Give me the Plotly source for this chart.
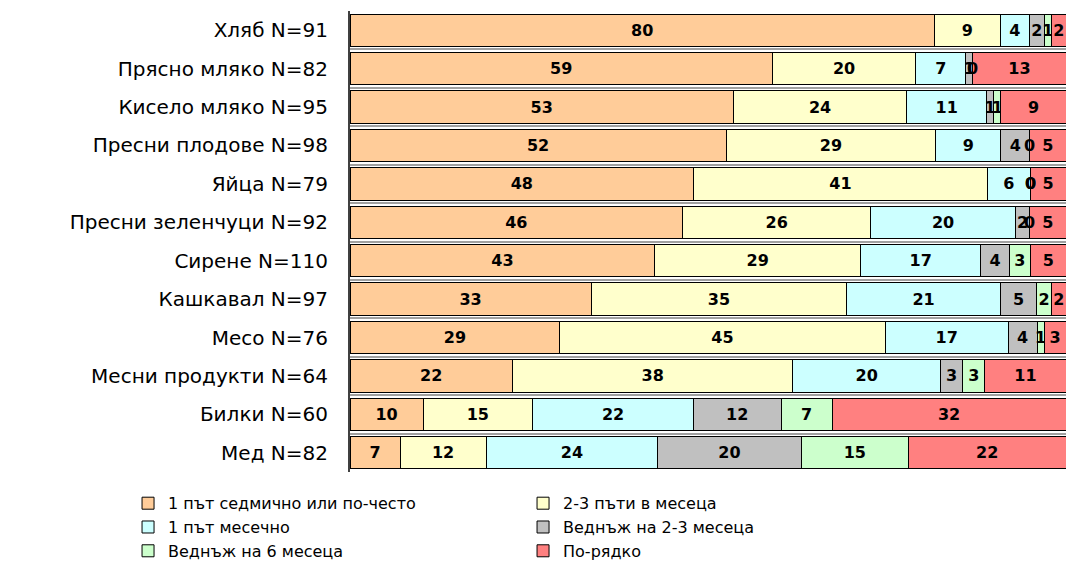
import plotly.graph_objects as go

# Food items (top to bottom) with sample size
categories = [
    "Хляб N=91",
    "Прясно мляко N=82",
    "Кисело мляко N=95",
    "Пресни плодове N=98",
    "Яйца N=79",
    "Пресни зеленчуци N=92",
    "Сирене N=110",
    "Кашкавал N=97",
    "Месо N=76",
    "Месни продукти N=64",
    "Билки N=60",
    "Мед N=82",
]

# Consumption frequency, % of respondents
weekly_or_more = [80, 59, 53, 52, 48, 46, 43, 33, 29, 22, 10, 7]
two_three_month = [9, 20, 24, 29, 41, 26, 29, 35, 45, 38, 15, 12]
once_month = [4, 7, 11, 9, 6, 20, 17, 21, 17, 20, 22, 24]
once_2_3_months = [2, 1, 1, 4, 0, 2, 4, 5, 4, 3, 12, 20]
once_6_months = [1, 0, 1, 0, 0, 0, 3, 2, 1, 3, 7, 15]
more_rarely = [2, 13, 9, 5, 5, 5, 5, 2, 3, 11, 32, 22]

series = [
    ("1 път седмично или по-често", weekly_or_more, "#FFCC99"),
    ("2-3 пъти в месеца", two_three_month, "#FFFFCC"),
    ("1 път месечно", once_month, "#CCFFFF"),
    ("Веднъж на 2-3 месеца", once_2_3_months, "#C0C0C0"),
    ("Веднъж на 6 месеца", once_6_months, "#CCFFCC"),
    ("По-рядко", more_rarely, "#FF8080"),
]

FONT = "DejaVu Sans"
VALUE_FONT = dict(family=FONT, size=16, color="#000000", weight="bold")

fig = go.Figure()
for name, vals, color in series:
    fig.add_trace(go.Bar(
        name=name,
        y=categories,
        x=vals,
        orientation="h",
        marker=dict(color=color, line=dict(color="#000000", width=1)),
        text=[str(v) for v in vals],
        textposition="inside",
        insidetextanchor="middle",
        textangle=0,
        textfont=VALUE_FONT,
        hoverinfo="skip",
    ))

# Zero-width segments get no bar text, so their "0" is placed at the
# segment's position on the normalised (percent) scale.
totals = [sum(s[1][i] for s in series) for i in range(len(categories))]
for i, cat in enumerate(categories):
    running = 0
    for _, vals, _ in series:
        if vals[i] == 0:
            fig.add_annotation(
                x=running / totals[i] * 100,
                y=cat,
                xref="x",
                yref="y",
                text="0",
                showarrow=False,
                font=VALUE_FONT,
            )
        running += vals[i]

fig.update_layout(
    width=1066,
    height=562,
    barmode="stack",
    barnorm="percent",
    bargap=0.16,
    plot_bgcolor="#FFFFFF",
    paper_bgcolor="#FFFFFF",
    margin=dict(l=350, r=0, t=11, b=90, autoexpand=False),
    font=dict(family=FONT, size=17, color="#000000"),
    uniformtext=dict(minsize=16, mode="show"),
    showlegend=True,
    legend=dict(
        orientation="h",
        x=-0.31,
        y=-0.031,
        xanchor="left",
        yanchor="top",
        entrywidth=350,
        traceorder="normal",
        font=dict(family=FONT, size=16, color="#000000"),
        tracegroupgap=0,
    ),
    xaxis=dict(
        range=[0, 100],
        showticklabels=False,
        showgrid=False,
        zeroline=False,
        showline=False,
        fixedrange=True,
    ),
    yaxis=dict(
        autorange="reversed",
        showgrid=True,
        gridcolor="#A0A0A0",
        gridwidth=2,
        tickson="boundaries",
        showline=True,
        linecolor="#404040",
        linewidth=2,
        ticks="",
        ticklabelstandoff=16,
        tickfont=dict(family=FONT, size=20, color="#000000"),
    ),
)

fig.write_html("out.html")
